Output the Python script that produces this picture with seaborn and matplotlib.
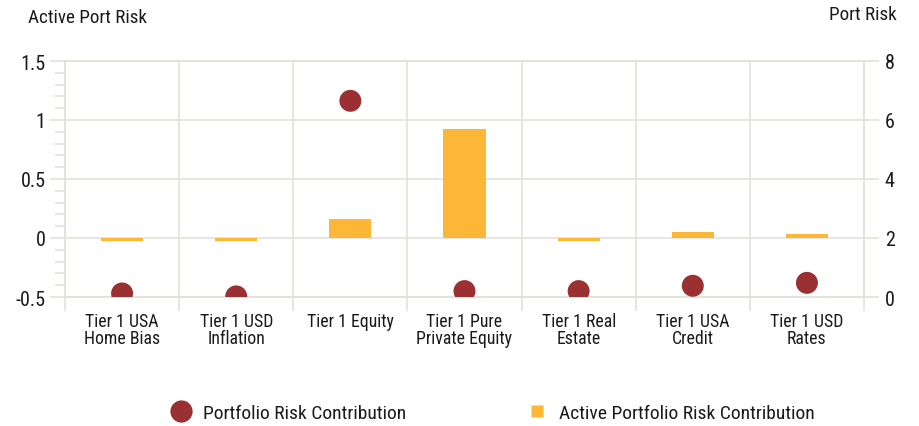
import matplotlib
matplotlib.use("Agg")
import matplotlib.pyplot as plt
from matplotlib import font_manager
from matplotlib.lines import Line2D
from matplotlib.ticker import MultipleLocator, FixedLocator
import seaborn as sns
import pandas as pd

# ---- data ----
categories = [
    "Tier 1 USA\nHome Bias",
    "Tier 1 USD\nInflation",
    "Tier 1 Equity",
    "Tier 1 Pure\nPrivate Equity",
    "Tier 1 Real\nEstate",
    "Tier 1 USA\nCredit",
    "Tier 1 USD\nRates",
]
active_risk = [-0.025, -0.025, 0.16, 0.92, -0.025, 0.05, 0.03]
portfolio_risk = [0.12, 0.02, 6.65, 0.20, 0.20, 0.38, 0.48]
left_ticks = [-0.5, 0, 0.5, 1, 1.5]
left_tick_labels = ["-0.5", "0", "0.5", "1", "1.5"]
right_ticks = [0, 2, 4, 6, 8]

BAR_COLOR = "#FDB736"
DOT_COLOR = "#9A3032"
GRID = "#E3E2DA"
TEXT = "#1a1a1a"

available = {f.name for f in font_manager.fontManager.ttflist}
family = next((f for f in ["Roboto Condensed", "Liberation Sans Narrow",
                           "Open Sans Condensed", "Roboto"] if f in available),
              "DejaVu Sans")

sns.set_theme(style="white")
plt.rcParams["font.family"] = [family, "DejaVu Sans"]

df = pd.DataFrame({"category": categories,
                   "active": active_risk,
                   "portfolio": portfolio_risk})

fig = plt.figure(figsize=(9.19, 4.27), dpi=100)
ax = fig.add_axes([65 / 919, 1 - 298 / 427, (864 - 65) / 919, (298 - 62) / 427])

sns.barplot(data=df, x="category", y="active", color=BAR_COLOR,
            saturation=1, width=0.37, linewidth=0, ax=ax, zorder=3)

ax2 = ax.twinx()
sns.scatterplot(data=df, x="category", y="portfolio", color=DOT_COLOR,
                s=250, edgecolor="none", ax=ax2, zorder=4, legend=False)

n = len(categories)
ax.set_xlim(-0.5, n - 0.5)
ax.set_ylim(-0.5, 1.5)
ax2.set_ylim(0, 8)
ax.set_xlabel("")
ax.set_ylabel("")
ax2.set_ylabel("")

# left axis ticks with minor subdivisions
ax.yaxis.set_major_locator(FixedLocator(left_ticks))
ax.set_yticklabels(left_tick_labels)
ax.yaxis.set_minor_locator(MultipleLocator(0.1))
ax.tick_params(axis="y", which="major", length=11, width=1.2, color=GRID,
               labelsize=14.5, labelcolor=TEXT, pad=3, left=True)
ax.tick_params(axis="y", which="minor", length=7, width=1.2, color=GRID, left=True)

ax2.yaxis.set_major_locator(FixedLocator(right_ticks))
ax2.tick_params(axis="y", which="major", length=11, width=1.2, color=GRID,
                labelsize=14.5, labelcolor=TEXT, pad=4, right=True)

# category labels at centres, boundary ticks/gridlines between categories
ax.xaxis.set_minor_locator(FixedLocator([i - 0.5 for i in range(n + 1)]))
ax.tick_params(axis="x", which="major", length=0, labelsize=12.8,
               labelcolor=TEXT, pad=10.5)
ax.tick_params(axis="x", which="minor", length=10, width=1.2, color=GRID,
               bottom=True)
for lbl in ax.get_xticklabels():
    lbl.set_linespacing(0.95)

ax.grid(False)
ax2.grid(False)
ax.grid(True, axis="x", which="minor", color=GRID, linewidth=1.2, zorder=0)
ax.grid(True, axis="y", which="major", color=GRID, linewidth=1.2, zorder=0)
ax.set_axisbelow(True)

for a in (ax, ax2):
    for side, sp in a.spines.items():
        sp.set_color(GRID)
        sp.set_linewidth(1.2)

fig.text(28 / 919, 1 - 18 / 427, "Active Port Risk", fontsize=13.8,
         color=TEXT, ha="left", va="center")
fig.text(897 / 919, 1 - 15 / 427, "Port Risk", fontsize=13.8,
         color=TEXT, ha="right", va="center")

handles = [
    Line2D([], [], marker="o", linestyle="none", markersize=16,
           markerfacecolor=DOT_COLOR, markeredgecolor="none",
           label="Portfolio Risk Contribution"),
    Line2D([], [], marker="s", linestyle="none", markersize=8,
           markerfacecolor=BAR_COLOR, markeredgecolor="none",
           label="Active Portfolio Risk Contribution"),
]
fig.legend(handles=handles, loc="center", bbox_to_anchor=(492 / 919, 1 - 414 / 427),
           ncol=2, frameon=False, fontsize=14, handletextpad=0.55,
           columnspacing=6.1, handlelength=1.2, labelcolor=TEXT)

fig.savefig("out.png", dpi=100)
